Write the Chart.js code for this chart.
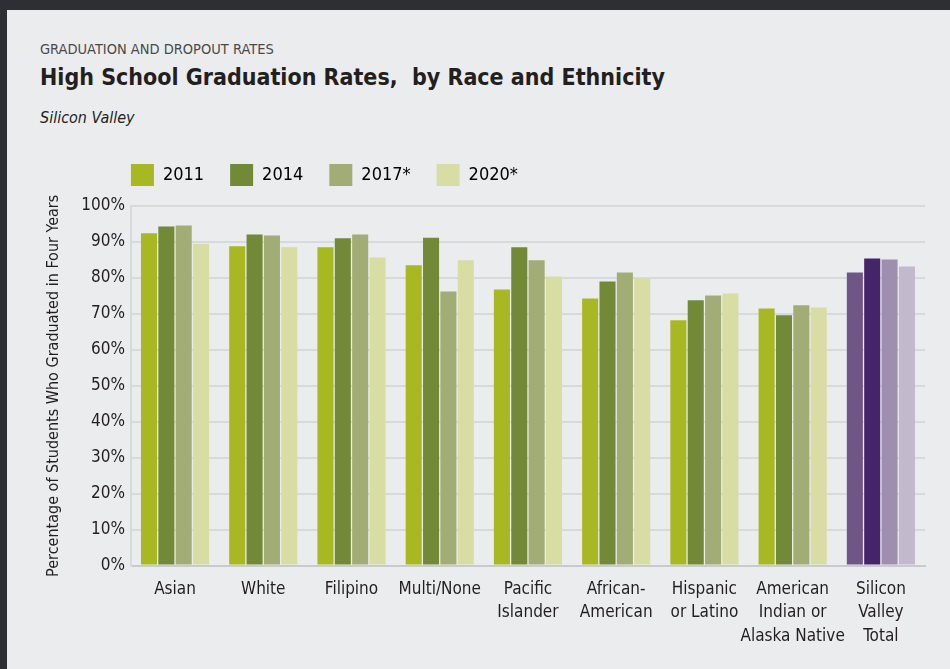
<!DOCTYPE html>
<html>
<head>
<meta charset="utf-8">
<script src="https://cdn.jsdelivr.net/npm/chart.js@4"></script>
<style>
  html, body { margin: 0; padding: 0; }
  body {
    width: 950px; height: 669px; overflow: hidden;
    background: #2e2f34; position: relative;
    font-family: "DejaVu Sans Condensed", "Liberation Sans Narrow", sans-serif;
  }
  .panel {
    position: absolute; left: 7px; top: 10px; right: 0; bottom: 0;
    background: #ebecee;
  }
  .kicker { position: absolute; left: 33px; top: 31px; font-size: 14.5px; color: #4a4a4a; }
  .title { position: absolute; left: 33px; top: 54px; font-size: 23px; font-weight: bold; color: #231f20; }
  .sub { position: absolute; left: 33px; top: 98px; font-size: 16px; font-style: italic; color: #231f20; }
  .chart-box { position: absolute; left: -7px; top: 130px; width: 950px; height: 529px; }
</style>
</head>
<body>
<div class="panel">
  <div class="kicker">GRADUATION AND DROPOUT RATES</div>
  <div class="title">High School Graduation Rates,&nbsp; by Race and Ethnicity</div>
  <div class="sub">Silicon Valley</div>
  <div class="chart-box"><canvas id="gradChart"></canvas></div>
</div>
<script>
const categories = [
  'Asian', 'White', 'Filipino', 'Multi/None', ['Pacific', 'Islander'],
  ['African-', 'American'], ['Hispanic', 'or Latino'],
  ['American', 'Indian or', 'Alaska Native'], ['Silicon', 'Valley', 'Total']
];
const years = ['2011', '2014', '2017*', '2020*'];
const rates2011 = [92.4, 88.8, 88.5, 83.5, 76.8, 74.3, 68.2, 71.5, 81.5];
const rates2014 = [94.3, 92.1, 91.0, 91.2, 88.5, 79.0, 73.8, 69.6, 85.4];
const rates2017 = [94.6, 91.8, 92.1, 76.2, 84.9, 81.5, 75.1, 72.4, 85.1];
const rates2020 = [89.5, 88.5, 85.7, 84.9, 80.4, 79.9, 75.7, 71.8, 83.2];
const yTicks = [0, 10, 20, 30, 40, 50, 60, 70, 80, 90, 100];

const greens = ['#a8b822', '#728a37', '#a1ad75', '#d8dda4'];
const purples = ['#6f5686', '#46246a', '#9e8fae', '#c3b9cf'];

const seriesValues = [rates2011, rates2014, rates2017, rates2020];
const FONT = '"DejaVu Sans Condensed", "Liberation Sans Narrow", sans-serif';

const datasets = years.map((yr, i) => ({
  label: yr,
  data: seriesValues[i],
  backgroundColor: categories.map((c, j) => j === categories.length - 1 ? purples[i] : greens[i]),
  borderWidth: 0,
  categoryPercentage: 0.787,
  barPercentage: 0.925
}));

// move the legend so that it starts just left of the plot, like the original
const legendShift = {
  id: 'legendShift',
  afterLayout(chart) {
    const lg = chart.legend;
    const dx = chart.chartArea.left - 26 - lg.left;
    lg.left += dx;
    lg.right += dx;
    lg.top -= 10;
    lg.bottom -= 10;
  }
};

new Chart(document.getElementById('gradChart'), {
  type: 'bar',
  data: { labels: categories, datasets },
  plugins: [legendShift],
  options: {
    responsive: true,
    maintainAspectRatio: false,
    animation: false,
    layout: { padding: { left: 44, right: 25, top: 8, bottom: 9 } },
    plugins: {
      legend: {
        position: 'top',
        align: 'start',
        fullSize: false,
        labels: {
          boxWidth: 23,
          boxHeight: 22,
          padding: 26,
          color: '#231f20',
          font: { family: FONT, size: 18 },
          generateLabels: chart => years.map((yr, i) => ({
            text: yr,
            fillStyle: greens[i],
            strokeStyle: greens[i],
            lineWidth: 0,
            datasetIndex: i
          }))
        }
      },
      tooltip: { enabled: false }
    },
    scales: {
      x: {
        grid: { display: false, drawTicks: false },
        border: { display: true, color: '#c9cacc', width: 2 },
        ticks: {
          color: '#231f20',
          font: { family: FONT, size: 17, lineHeight: 1.38 },
          padding: 12,
          maxRotation: 0,
          autoSkip: false
        }
      },
      y: {
        min: 0,
        max: 100,
        afterBuildTicks: scale => { scale.ticks = yTicks.map(v => ({ value: v })); },
        grid: { color: '#d8d9db', lineWidth: 2, drawTicks: false },
        border: { display: true, color: '#d8d9db', width: 2 },
        ticks: {
          color: '#231f20',
          font: { family: FONT, size: 17 },
          padding: 6,
          callback: v => v + '%'
        },
        title: {
          display: true,
          text: 'Percentage of Students Who Graduated in Four Years',
          color: '#231f20',
          font: { family: FONT, size: 16 },
          padding: { top: 0, bottom: 12 }
        }
      }
    }
  }
});
</script>
</body>
</html>
